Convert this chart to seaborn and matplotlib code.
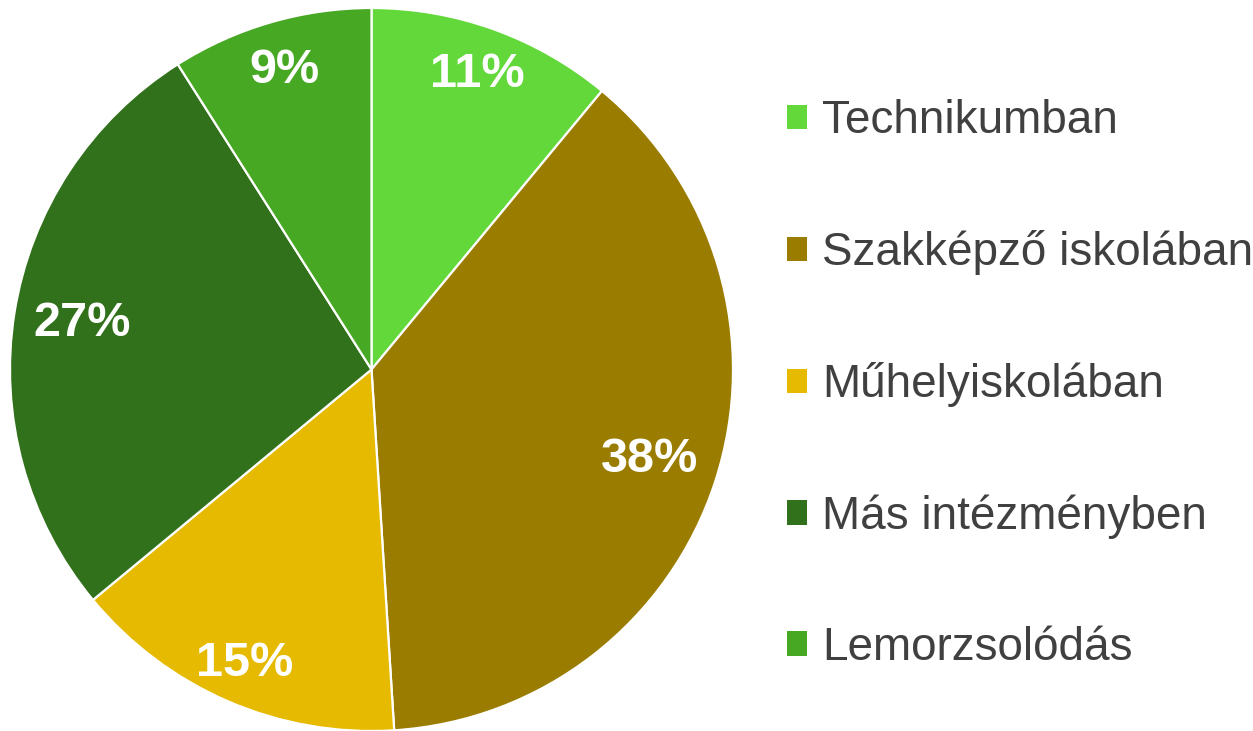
import matplotlib
matplotlib.use("Agg")
import matplotlib.pyplot as plt
import matplotlib.patches as mpatches
import numpy as np
import seaborn as sns

# Share of students by where they continue their studies (%)
categories = ["Technikumban", "Szakképző iskolában", "Műhelyiskolában",
              "Más intézményben", "Lemorzsolódás"]
shares = [11, 38, 15, 27, 9]
colors = ["#62d83a", "#9a7c00", "#e5ba00", "#31711b", "#47a823"]

sns.set_theme(style="white")
plt.rcParams["font.family"] = ["Liberation Sans", "DejaVu Sans"]

W, H, DPI = 1253, 731, 100
fig = plt.figure(figsize=(W / DPI, H / DPI), dpi=DPI)
fig.patch.set_facecolor("white")

cx, cy, r = 371.5, 369.5, 361.5
ax = fig.add_axes([(cx - r) / W, (H - cy - r) / H, 2 * r / W, 2 * r / H])

wedges, _ = ax.pie(shares, colors=colors, startangle=90, counterclock=False,
                   radius=1.0,
                   wedgeprops=dict(edgecolor="white", linewidth=1.6))
ax.set_xlim(-1, 1)
ax.set_ylim(-1, 1)
ax.set_aspect("equal")
ax.axis("off")

# data labels along each wedge's bisector
label_radius = [0.867, 0.81, 0.886, 0.81, 0.862]
for w, val, lr in zip(wedges, shares, label_radius):
    ang = np.deg2rad((w.theta1 + w.theta2) / 2)
    ax.text(lr * np.cos(ang), lr * np.sin(ang), f"{val}%",
            ha="center", va="center", color="white",
            fontsize=35, fontweight="bold")

handles = [mpatches.Patch(facecolor=c, edgecolor="none") for c in colors]
leg = fig.legend(handles, categories, loc="center left",
                 bbox_to_anchor=(787 / W, 0.5 - 19 / H), frameon=False,
                 fontsize=33, labelcolor="#404040",
                 handlelength=0.44, handleheight=0.44, handletextpad=0.33,
                 labelspacing=1.90, borderpad=0, borderaxespad=0)

fig.savefig("out.png", dpi=DPI, facecolor="white")
